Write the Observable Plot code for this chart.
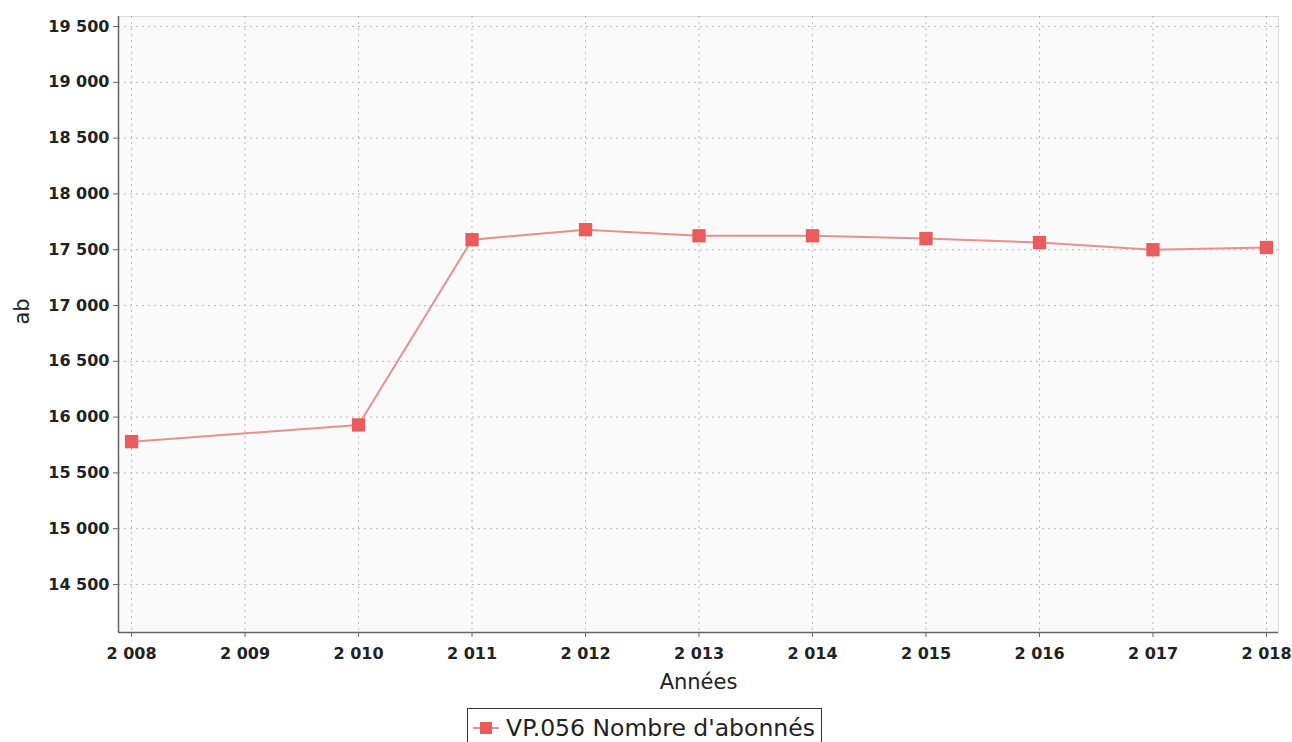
<!DOCTYPE html>
<html>
<head>
<meta charset="utf-8">
<script src="https://cdn.jsdelivr.net/npm/d3@7"></script>
<script src="https://cdn.jsdelivr.net/npm/@observablehq/plot@0.6"></script>
<style>
  body { margin: 0; background: #fff; font-family: "DejaVu Sans", sans-serif; }
  #chart { width: 1292px; }
  .legend-wrap { width: 1292px; display: flex; justify-content: center; margin-top: 3px; }
  .legend { display: flex; align-items: center; border: 1.5px solid #333; padding: 0 6px 0 4px; height: 40px; box-sizing: border-box; font-size: 23.5px; color: #222; margin-left: -3px; }
</style>
</head>
<body>
<div id="chart"></div>
<div class="legend-wrap"><div class="legend" id="legend"></div></div>
<script>
const years = [2008, 2010, 2011, 2012, 2013, 2014, 2015, 2016, 2017, 2018];
const subscribers = [15780, 15930, 17590, 17680, 17625, 17625, 17600, 17565, 17500, 17520];
const xTicks = [2008, 2009, 2010, 2011, 2012, 2013, 2014, 2015, 2016, 2017, 2018];
const yTicks = [14500, 15000, 15500, 16000, 16500, 17000, 17500, 18000, 18500, 19000, 19500];
const seriesName = "VP.056 Nombre d'abonnés";
const xLabel = "Années";
const yLabel = "ab";

const data = years.map((y, i) => ({year: y, value: subscribers[i]}));
const fmt = d3.formatLocale({decimal: ",", thousands: "\u00a0", grouping: [3], currency: ["", ""]}).format(",d");

const xDom = [2007.885, 2018.106];
const yDom = [14070, 19590];
const lineColor = "#e89090";
const markColor = "#ea5b5b";

const chart = Plot.plot({
  width: 1292,
  height: 705,
  marginTop: 16,
  marginBottom: 73,
  marginLeft: 118,
  marginRight: 14,
  style: {fontFamily: "DejaVu Sans", fontSize: "14px", color: "#222", background: "#fff"},
  x: {type: "linear", domain: xDom, ticks: xTicks, tickFormat: fmt, label: null},
  y: {type: "linear", domain: yDom, ticks: yTicks, tickFormat: fmt, label: null},
  marks: [
    Plot.frame({fill: "#fafafa", stroke: "#dcdcdc"}),
    Plot.gridX(xTicks, {stroke: "#bbb", strokeOpacity: 1, strokeDasharray: "2,4", strokeWidth: 1}),
    Plot.gridY(yTicks, {stroke: "#bbb", strokeOpacity: 1, strokeDasharray: "2,4", strokeWidth: 1}),
    Plot.ruleX([xDom[0]], {stroke: "#666", strokeWidth: 1.5}),
    Plot.ruleY([yDom[0]], {stroke: "#666", strokeWidth: 1.5}),
    Plot.axisX(xTicks, {tickFormat: fmt, tickSize: 5, tickPadding: 10, fontWeight: "bold", fontSize: 16, stroke: "#666", label: null}),
    Plot.axisY(yTicks, {tickFormat: fmt, tickSize: 5, tickPadding: 4, fontWeight: "bold", fontSize: 16, stroke: "#666", label: null}),
    Plot.line(data, {x: "year", y: "value", stroke: lineColor, strokeWidth: 2}),
    Plot.dot(data, {x: "year", y: "value", symbol: "square", r: 7.5, fill: markColor, stroke: "none"}),
    Plot.text([xLabel], {frameAnchor: "bottom", dy: 56, fontSize: 21, fill: "#222"}),
    Plot.text([yLabel], {frameAnchor: "left", dx: -96, rotate: -90, fontSize: 21, fill: "#222"})
  ]
});
document.getElementById("chart").appendChild(chart);

const leg = document.getElementById("legend");
leg.innerHTML = `<svg width="28" height="20" style="margin-right:6px"><line x1="1" y1="10" x2="27" y2="10" stroke="${lineColor}" stroke-width="2"/><rect x="8" y="4" width="12" height="12" fill="${markColor}"/></svg><span>${seriesName}</span>`;
</script>
</body>
</html>
